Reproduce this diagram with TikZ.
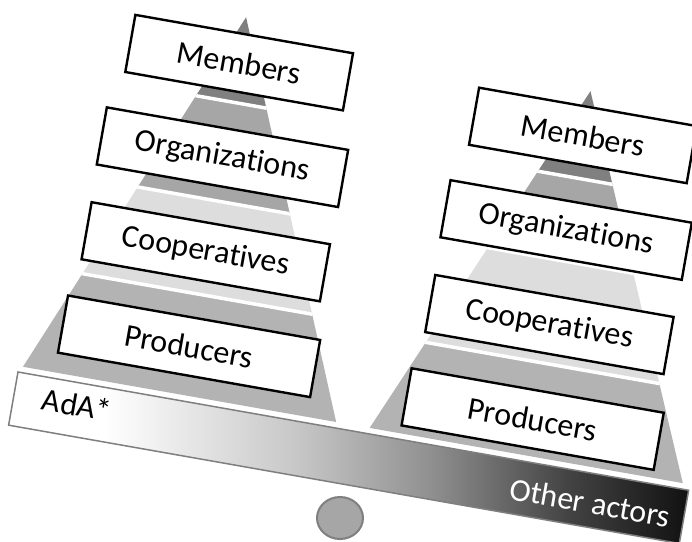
\documentclass[tikz,border=0pt]{standalone}
\usepackage{fontspec}
\setmainfont{Carlito}[Ligatures=NoCommon]
\usetikzlibrary{shapes.geometric}
\definecolor{lvlA}{HTML}{808080}
\definecolor{lvlB}{HTML}{A6A6A6}
\definecolor{lvlC}{HTML}{DDDDDD}
\definecolor{lvlD}{HTML}{B3B3B3}
\definecolor{rim}{HTML}{7F7F7F}
\definecolor{shA}{HTML}{C8C8C8}
\definecolor{shB}{HTML}{909090}
\definecolor{shC}{HTML}{444444}
\definecolor{shD}{HTML}{111111}
\pgfdeclarehorizontalshading{beamshade}{100bp}{color(0bp)=(white); color(32bp)=(white); color(46bp)=(shA); color(56bp)=(shB); color(66bp)=(shC); color(75bp)=(shD); color(100bp)=(shD)}
\tikzset{node distance=96pt,
  layerbox/.style={draw, line width=2.4pt, fill=white, minimum height=58pt, inner sep=0pt,
    font=\fontsize{32}{38}\selectfont, transform shape},
  beambar/.style={draw=rim, line width=1.5pt, shade, shading=beamshade, minimum width=681pt,
    minimum height=54pt, inner sep=0pt, transform shape},
  beamtext/.style={font=\fontsize{32}{38}\selectfont, inner sep=0pt, transform shape},
  pivot/.style={ellipse, draw=rim, fill=lvlB, line width=2pt, minimum width=46pt, minimum height=42pt}}

\begin{document}
\begin{tikzpicture}[x=1pt, y=1pt]
  \useasboundingbox (0,0) rectangle (692,541);
  \begin{scope}[shift={(18,169)}, rotate=-10]
    % pyramids
    \foreach \cx/\pk/\sepa/\sepb/\sepc in {163/389/108/203/303, 515/376/100/204/288}{
      \begin{scope}
        \clip (\cx-159,6) -- (\cx,\pk) -- (\cx+159,6) -- cycle;
        \fill[lvlD] (\cx-160,0) rectangle (\cx+160,\sepa);
        \fill[lvlC] (\cx-160,\sepa) rectangle (\cx+160,\sepb);
        \fill[lvlB] (\cx-160,\sepb) rectangle (\cx+160,\sepc);
        \fill[lvlA] (\cx-160,\sepc) rectangle (\cx+160,\pk);
        \foreach \s in {\sepa,\sepb,\sepc}
          \draw[white, line width=3.5pt] (\cx-160,\s) -- (\cx+160,\s);
      \end{scope}
    }
    \node[layerbox, minimum width=256pt] (P1) at (164,55) {Producers};
    \node[layerbox, minimum width=242pt] (C1) [above of=P1] {Cooperatives};
    \node[layerbox, minimum width=245pt] (O1) [above of=C1] {Organizations};
    \node[layerbox, minimum width=221pt] (M1) [above of=O1] {Members};
    \node[layerbox, minimum width=256pt] (P2) at (515,43) {Producers};
    \node[layerbox, minimum width=242pt] (C2) [above of=P2] {Cooperatives};
    \node[layerbox, minimum width=245pt] (O2) [above of=C2] {Organizations};
    \node[layerbox, minimum width=221pt] (M2) [above of=O2] {Members};
    % seesaw
    \node[beambar] (Beam) at (340.5,-27) {};
    \node[beamtext] (AdA) at (64,-22) {AdA*};
    \node[beamtext, text=white] (Other) at (586,-29) {Other actors};
  \end{scope}
  \node[pivot] (Pivot) at (340,23) {};
\end{tikzpicture}
\end{document}
